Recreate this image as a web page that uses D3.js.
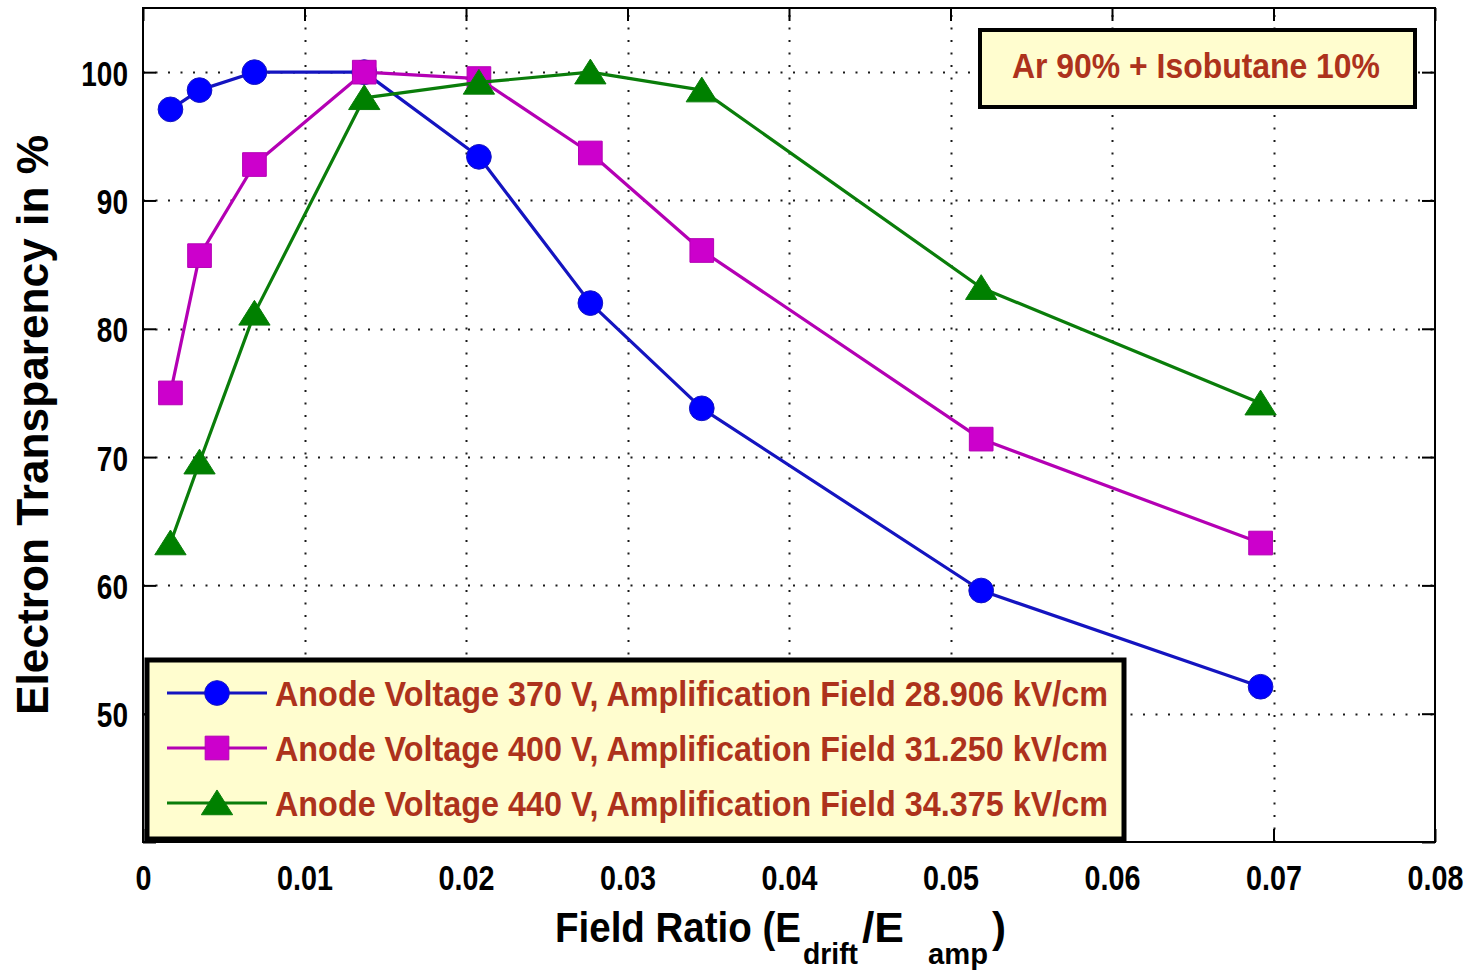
<!DOCTYPE html>
<html>
<head>
<meta charset="utf-8">
<script src="https://cdn.jsdelivr.net/npm/d3@7/dist/d3.min.js"></script>
<style>
  html, body { margin: 0; padding: 0; background: #ffffff; }
  svg { display: block; }
  text { font-family: "Liberation Sans", Arial, sans-serif; font-weight: bold; }
</style>
</head>
<body>
<script>
// Field ratio E_drift / E_amp at which transparency was measured
const fieldRatio = [0.0017, 0.0035, 0.0069, 0.0137, 0.0208, 0.0277, 0.0346, 0.0519, 0.0692];

// Electron transparency (%) for each anode voltage
const transparency370 = [97.1, 98.6, 100.0, 100.0, 93.4, 82.0, 73.8, 59.6, 52.1];
const transparency400 = [75.0, 85.7, 92.8, 100.0, 99.5, 93.7, 86.1, 71.4, 63.3];
const transparency440 = [63.3, 69.6, 81.2, 98.0, 99.2, 100.0, 98.6, 83.2, 74.2];

const seriesLabels = [
  "Anode Voltage 370 V, Amplification Field 28.906  kV/cm",
  "Anode Voltage 400 V, Amplification Field 31.250 kV/cm",
  "Anode Voltage 440 V, Amplification Field 34.375 kV/cm"
];

const xTickValues = [0, 0.01, 0.02, 0.03, 0.04, 0.05, 0.06, 0.07, 0.08];
const xTickLabels = ["0", "0.01", "0.02", "0.03", "0.04", "0.05", "0.06", "0.07", "0.08"];
const yTickValues = [40, 50, 60, 70, 80, 90, 100];
const yTickLabels = ["", "50", "60", "70", "80", "90", "100"];

const gasLabel = "Ar 90% + Isobutane 10%";

const W = 1470, H = 972;
const plot = { left: 143, right: 1435, top: 8, bottom: 842 };

const svg = d3.select("body").append("svg").attr("width", W).attr("height", H);

const x = d3.scaleLinear().domain([0, 0.08]).range([plot.left, plot.right]);
const y = d3.scaleLinear().domain([40, 105]).range([plot.bottom, plot.top]);

// squeeze rendered text horizontally to mimic a narrow bold face
function condense(sel, k) {
  sel.each(function () {
    const w = this.getComputedTextLength();
    this.setAttribute("textLength", w * k);
    this.setAttribute("lengthAdjust", "spacingAndGlyphs");
  });
}
function fit(sel, w) {
  sel.attr("textLength", w).attr("lengthAdjust", "spacingAndGlyphs");
}

// dotted grid
const grid = svg.append("g").attr("stroke", "#1a1a1a").attr("stroke-width", 2)
  .attr("stroke-dasharray", "2,10.5").attr("fill", "none");
grid.selectAll("line.gx").data(xTickValues.slice(1, -1)).join("line")
  .attr("class", "gx")
  .attr("x1", d => Math.round(x(d)) + 0.5).attr("x2", d => Math.round(x(d)) + 0.5)
  .attr("y1", plot.bottom).attr("y2", plot.top);
grid.selectAll("line.gy").data(yTickValues.slice(1)).join("line")
  .attr("class", "gy")
  .attr("x1", plot.left).attr("x2", plot.right)
  .attr("y1", d => Math.round(y(d)) + 0.5).attr("y2", d => Math.round(y(d)) + 0.5);

// axes with inward ticks on all four sides
const tickLen = 13;
function styleAxis(g) {
  g.select(".domain").remove();
  g.selectAll(".tick line").attr("stroke", "#000").attr("stroke-width", 2);
}
const xAxisB = svg.append("g").attr("transform", `translate(0,${plot.bottom})`)
  .call(d3.axisBottom(x).tickValues(xTickValues).tickSizeInner(-tickLen).tickSizeOuter(0)
    .tickFormat((d, i) => xTickLabels[i]));
styleAxis(xAxisB);
xAxisB.selectAll(".tick text")
  .attr("y", 48).attr("dy", null).attr("fill", "#000")
  .attr("font-size", 35).attr("text-anchor", "middle");
condense(xAxisB.selectAll(".tick text"), 0.82);

const xAxisT = svg.append("g").attr("transform", `translate(0,${plot.top})`)
  .call(d3.axisTop(x).tickValues(xTickValues).tickSizeInner(-tickLen).tickSizeOuter(0).tickFormat(""));
styleAxis(xAxisT);

const yAxisL = svg.append("g").attr("transform", `translate(${plot.left},0)`)
  .call(d3.axisLeft(y).tickValues(yTickValues).tickSizeInner(-tickLen).tickSizeOuter(0)
    .tickFormat((d, i) => yTickLabels[i]));
styleAxis(yAxisL);
yAxisL.selectAll(".tick text")
  .attr("x", -15).attr("dy", null).attr("y", 13).attr("fill", "#000")
  .attr("font-size", 35).attr("text-anchor", "end");
condense(yAxisL.selectAll(".tick text"), 0.8);

const yAxisR = svg.append("g").attr("transform", `translate(${plot.right},0)`)
  .call(d3.axisRight(y).tickValues(yTickValues).tickSizeInner(-tickLen).tickSizeOuter(0).tickFormat(""));
styleAxis(yAxisR);

// plot frame
svg.append("rect")
  .attr("x", plot.left).attr("y", plot.top)
  .attr("width", plot.right - plot.left).attr("height", plot.bottom - plot.top)
  .attr("fill", "none").attr("stroke", "#000").attr("stroke-width", 2);

// marker shapes
const triangleUp = {
  draw(ctx, size) {
    const s = Math.sqrt(size);
    ctx.moveTo(0, -s * 0.5);
    ctx.lineTo(s * 0.6, s * 0.45);
    ctx.lineTo(-s * 0.6, s * 0.45);
    ctx.closePath();
  }
};

const series = [
  { values: transparency370, line: "#1414c0", fill: "#0000ff", symbol: d3.symbolCircle, size: 480 },
  { values: transparency400, line: "#b400b4", fill: "#cc00cc", symbol: d3.symbolSquare, size: 560 },
  { values: transparency440, line: "#0a7d0a", fill: "#008000", symbol: triangleUp, size: 680 }
];

const lineGen = d3.line().x(d => x(d[0])).y(d => y(d[1]));

series.forEach(s => {
  const pts = fieldRatio.map((fr, i) => [fr, s.values[i]]);
  const g = svg.append("g");
  g.append("path").datum(pts)
    .attr("d", lineGen)
    .attr("fill", "none").attr("stroke", s.line).attr("stroke-width", 3.2)
    .attr("stroke-linejoin", "round");
  g.selectAll("path.m").data(pts).join("path")
    .attr("class", "m")
    .attr("transform", d => `translate(${x(d[0])},${y(d[1])})`)
    .attr("d", d3.symbol().type(s.symbol).size(s.size))
    .attr("fill", s.fill).attr("stroke", s.line).attr("stroke-width", 1);
});

// gas mixture annotation box
const textRed = "#ad321c";
svg.append("rect")
  .attr("x", 980).attr("y", 30).attr("width", 435).attr("height", 77)
  .attr("fill", "#fffdcf").attr("stroke", "#000").attr("stroke-width", 4);
svg.append("text")
  .attr("x", 1012).attr("y", 78)
  .attr("font-size", 35).attr("fill", textRed)
  .text(gasLabel)
  .call(fit, 368);

// legend
const legend = svg.append("g");
legend.append("rect")
  .attr("x", 147).attr("y", 660).attr("width", 977).attr("height", 179)
  .attr("fill", "#fffdcf").attr("stroke", "#000").attr("stroke-width", 5);
const rowY = [693, 748, 803];
series.forEach((s, i) => {
  legend.append("line")
    .attr("x1", 167).attr("x2", 267).attr("y1", rowY[i]).attr("y2", rowY[i])
    .attr("stroke", s.line).attr("stroke-width", 3.2);
  legend.append("path")
    .attr("transform", `translate(217,${rowY[i]})`)
    .attr("d", d3.symbol().type(s.symbol).size(s.size))
    .attr("fill", s.fill).attr("stroke", s.line).attr("stroke-width", 1);
  legend.append("text")
    .attr("x", 275).attr("y", rowY[i] + 13)
    .attr("font-size", 35).attr("fill", textRed)
    .text(seriesLabels[i])
    .call(fit, 833);
});

// axis titles
svg.append("text")
  .attr("transform", "translate(48,425) rotate(-90)")
  .attr("text-anchor", "middle")
  .attr("font-size", 44).attr("fill", "#000")
  .text("Electron Transparency in %")
  .call(fit, 580);

const xTitle = svg.append("g").attr("fill", "#000");
xTitle.append("text").attr("x", 555).attr("y", 942).attr("font-size", 42)
  .text("Field Ratio (E").call(fit, 246);
xTitle.append("text").attr("x", 803).attr("y", 964).attr("font-size", 29)
  .text("drift").call(fit, 55);
xTitle.append("text").attr("x", 862).attr("y", 942).attr("font-size", 42)
  .text("/E").call(fit, 42);
xTitle.append("text").attr("x", 928).attr("y", 964).attr("font-size", 29)
  .text("amp").call(fit, 60);
xTitle.append("text").attr("x", 992).attr("y", 942).attr("font-size", 42)
  .text(")").call(fit, 14);
</script>
</body>
</html>
